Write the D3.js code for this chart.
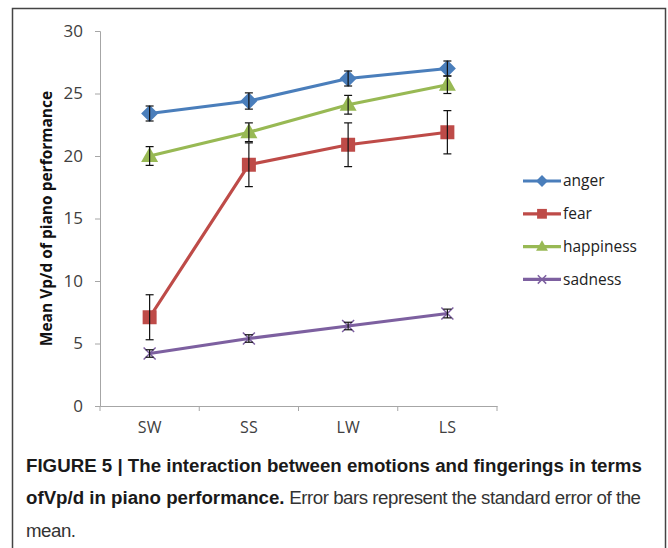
<!DOCTYPE html>
<html>
<head>
<meta charset="utf-8">
<script src="https://cdn.jsdelivr.net/npm/d3@7"></script>
<style>
  body { margin: 0; background: #fff; }
  svg { display: block; }
</style>
</head>
<body>
<svg width="668" height="548"></svg>
<script>
// fingering conditions on the x axis
var fingerings = ["SW", "SS", "LW", "LS"];
var emotions = ["anger", "fear", "happiness", "sadness"];
var yTicks = [0, 5, 10, 15, 20, 25, 30];

// means
var anger = [23.4, 24.4, 26.2, 27.0];
var fear = [7.1, 19.3, 20.9, 21.9];
var happiness = [20.0, 21.9, 24.1, 25.7];
var sadness = [4.2, 5.4, 6.4, 7.4];

// standard errors
var angerErr = [0.6, 0.65, 0.6, 0.6];
var fearErr = [1.8, 1.75, 1.75, 1.73];
var happinessErr = [0.75, 0.75, 0.75, 0.7];
var sadnessErr = [0.3, 0.3, 0.3, 0.35];

var colors = ["#4a7ebb", "#be4b48", "#98b954", "#7d60a0"];
var markers = ["diamond", "square", "triangle", "cross"];

var series = emotions.map(function(name, i) {
    var vals = [anger, fear, happiness, sadness][i];
    var errs = [angerErr, fearErr, happinessErr, sadnessErr][i];
    return {
        name: name,
        color: colors[i],
        marker: markers[i],
        points: fingerings.map(function(f, j) {
            return {x: f, y: vals[j], e: errs[j]};
        })
    };
});

var svg = d3.select("svg");

// frame round the figure
svg.append("rect")
    .attr("x", 12.5).attr("y", 8.5)
    .attr("width", 653).attr("height", 560)
    .attr("fill", "none")
    .attr("stroke", "#444")
    .attr("stroke-width", 1.5);

var x = d3.scaleBand().domain(fingerings).range([100, 497]);
var y = d3.scaleLinear().domain([0, 30]).range([406, 31]);

var axisColor = "#a6a6a6";
var labelFont = "'Open Sans', 'DejaVu Sans', sans-serif";

// y axis
var yAxis = svg.append("g")
    .attr("transform", "translate(100,0)")
    .call(d3.axisLeft(y).tickValues(yTicks).tickSize(5).tickPadding(12));
yAxis.select(".domain").attr("stroke", axisColor);
yAxis.selectAll(".tick line").attr("stroke", axisColor);
yAxis.selectAll(".tick text")
    .attr("fill", "#404040")
    .style("font-family", labelFont)
    .style("font-size", "17px");

// x axis, ticks sit on the band edges
var xAxis = svg.append("g")
    .attr("transform", "translate(0,406)")
    .call(d3.axisBottom(x).tickSize(0).tickPadding(16));
xAxis.select(".domain").attr("stroke", axisColor);
xAxis.selectAll(".tick text")
    .attr("fill", "#404040")
    .style("font-family", labelFont)
    .style("font-size", "16px");
xAxis.selectAll(".edge")
    .data(fingerings.map(function(f) { return x(f); }).concat([x.range()[1]]))
    .enter().append("line")
    .attr("x1", function(d) { return d; })
    .attr("x2", function(d) { return d; })
    .attr("y1", 0).attr("y2", 5)
    .attr("stroke", axisColor);

// y axis title
svg.append("text")
    .attr("transform", "translate(47," + y(15) + ") rotate(-90)")
    .attr("dy", "0.35em")
    .attr("text-anchor", "middle")
    .style("font-family", labelFont)
    .style("font-weight", "bold")
    .style("font-size", "15.5px")
    .attr("fill", "#111")
    .text("Mean Vp/d of piano performance");

var line = d3.line()
    .x(function(d) { return x(d.x) + x.bandwidth() / 2; })
    .y(function(d) { return y(d.y); });

function drawMarker(g, type, color, cx, cy, k) {
    var t = "translate(" + cx + "," + cy + ") scale(" + k + ")";
    if (type == "diamond") {
        g.append("path")
            .attr("d", "M0,-8.5L8.5,0L0,8.5L-8.5,0Z")
            .attr("transform", t)
            .attr("fill", color);
    } else if (type == "square") {
        g.append("path")
            .attr("d", "M-7,-7H7V7H-7Z")
            .attr("transform", t)
            .attr("fill", color);
    } else if (type == "triangle") {
        g.append("path")
            .attr("d", "M0,-9L8.5,6L-8.5,6Z")
            .attr("transform", t)
            .attr("fill", color);
    } else {
        g.append("path")
            .attr("d", "M-6,-6L6,6M-6,6L6,-6")
            .attr("transform", t)
            .attr("stroke", color)
            .attr("stroke-width", 1.5 / k)
            .attr("fill", "none");
    }
}

series.forEach(function(s) {
    var g = svg.append("g");
    g.append("path")
        .datum(s.points)
        .attr("d", line)
        .attr("fill", "none")
        .attr("stroke", s.color)
        .attr("stroke-width", 3.2);

    s.points.forEach(function(p) {
        var cx = x(p.x) + x.bandwidth() / 2;
        drawMarker(g, s.marker, s.color, cx, y(p.y), 1);
        // error bar
        var eb = g.append("g").attr("stroke", "#111").attr("stroke-width", 1.2);
        eb.append("line")
            .attr("x1", cx).attr("x2", cx)
            .attr("y1", y(p.y + p.e)).attr("y2", y(p.y - p.e));
        [p.y + p.e, p.y - p.e].forEach(function(v) {
            eb.append("line")
                .attr("x1", cx - 4).attr("x2", cx + 4)
                .attr("y1", y(v)).attr("y2", y(v));
        });
    });
});

// legend
var legend = svg.append("g");
series.forEach(function(s, i) {
    var ly = 181 + i * 32.8;
    legend.append("line")
        .attr("x1", 523).attr("x2", 561)
        .attr("y1", ly).attr("y2", ly)
        .attr("stroke", s.color)
        .attr("stroke-width", 3.2);
    drawMarker(legend, s.marker, s.color, 542, ly, 0.7);
    legend.append("text")
        .attr("x", 563).attr("y", ly)
        .attr("dy", "0.35em")
        .style("font-family", labelFont)
        .style("font-size", "15.5px")
        .attr("fill", "#222")
        .text(s.name);
});

// caption
var capFont = "'Liberation Sans Narrow', 'Liberation Sans', Arial, sans-serif";
var cap = svg.append("g")
    .style("font-family", capFont)
    .style("font-size", "18.7px")
    .attr("fill", "#1a1a1a");
cap.append("text")
    .attr("x", 26).attr("y", 472)
    .style("font-weight", "bold")
    .text("FIGURE 5 | The interaction between emotions and fingerings in terms");
var l2 = cap.append("text").attr("x", 26).attr("y", 504);
l2.append("tspan").style("font-weight", "bold").text("ofVp/d in piano performance.");
l2.append("tspan").attr("fill", "#333")
    .style("letter-spacing", "-0.47px")
    .text(" Error bars represent the standard error of the");
cap.append("text")
    .attr("x", 26).attr("y", 537)
    .attr("fill", "#333")
    .style("letter-spacing", "-0.47px")
    .text("mean.");
</script>
</body>
</html>
